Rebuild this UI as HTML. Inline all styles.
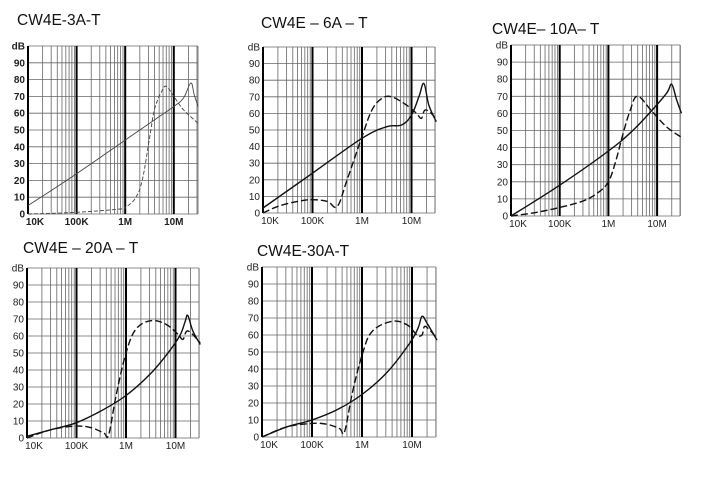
<!DOCTYPE html>
<html><head><meta charset="utf-8"><style>
body{margin:0;background:#fff;width:713px;height:479px;overflow:hidden}
svg{position:absolute;left:0;top:0}
</style></head><body>
<svg id="s" width="713" height="479" xmlns="http://www.w3.org/2000/svg" font-family="Liberation Sans, sans-serif"></svg>
<script>
const s=document.getElementById('s');
let h='';
const charts=[
 {t:'CW4E-3A-T',tx:17,ty:25,x0:28,dw:48.6,x1:198,y0:46,y1:214,thin:true,
  a:[[0,5],[1,24],[2,44],[2.7,58],[3.0,64],[3.2,69],[3.35,78],[3.42,71],[3.5,64]],
  b:[[0,0],[1,1],[1.9,3],[2,4],[2.2,9],[2.35,20],[2.5,45],[2.6,62],[2.75,73],[2.85,76],[3,70],[3.2,62],[3.5,54]]},
 {t:'CW4E – 6A – T',tx:261,ty:28,x0:263,dw:49.5,x1:435,y0:47,y1:213,
  a:[[0,3],[1,24],[2,45],[2.5,52],[2.8,53],[3,59],[3.15,70],[3.25,78],[3.35,65],[3.5,55]],
  b:[[0,0],[0.3,4],[0.7,7],[1,8],[1.3,7],[1.5,4],[1.7,20],[2,46],[2.2,62],[2.4,69],[2.6,70],[2.9,65],[3.1,60],[3.2,57],[3.27,62],[3.4,60],[3.5,56]]},
 {t:'CW4E– 10A– T',tx:492,ty:34,x0:511,dw:48.7,x1:680,y0:45,y1:216,
  a:[[0,0],[1,18],[2,38],[2.5,50],[2.9,62],[3.2,72],[3.3,77],[3.4,68],[3.5,60]],
  b:[[0,0],[0.5,2],[1,5],[1.5,9],[1.8,14],[2,20],[2.15,32],[2.3,48],[2.45,62],[2.6,70],[2.9,61],[3.2,52],[3.5,46]]},
 {t:'CW4E – 20A – T',tx:23,ty:253,x0:27,dw:49.5,x1:199,y0:268,y1:438,
  a:[[0,1],[0.5,5],[1,9],[1.5,16],[2,25],[2.5,38],[2.9,52],[3.1,61],[3.2,69],[3.25,72],[3.35,63],[3.5,55]],
  b:[[0,0],[0.5,5],[1,7],[1.3,6],[1.55,3],[1.65,2],[1.8,25],[2,50],[2.2,64],[2.5,69],[2.8,67],[3.05,61],[3.15,58],[3.25,63],[3.5,56]]},
 {t:'CW4E-30A-T',tx:257,ty:256,x0:262,dw:50,x1:436,y0:267,y1:437,
  a:[[0,0],[0.5,6],[1,10],[1.5,16],[2,25],[2.5,38],[2.95,55],[3.12,64],[3.2,71],[3.3,67],[3.5,57]],
  b:[[0,0],[0.5,6],[1,8],[1.3,7.5],[1.55,5],[1.65,3],[1.8,25],[2,48],[2.2,62],[2.6,68],[2.9,66],[3.1,60],[3.2,60],[3.25,65],[3.35,63],[3.5,58]]}
];
function path(P){
 let d='M'+P[0][0].toFixed(1)+','+P[0][1].toFixed(1);
 for(let i=0;i<P.length-1;i++){
  const p0=P[Math.max(0,i-1)],p1=P[i],p2=P[i+1],p3=P[Math.min(P.length-1,i+2)];
  const t=0.18;
  const c1=[p1[0]+(p2[0]-p0[0])*t,p1[1]+(p2[1]-p0[1])*t];
  const c2=[p2[0]-(p3[0]-p1[0])*t,p2[1]-(p3[1]-p1[1])*t];
  d+=` C${c1[0].toFixed(1)},${c1[1].toFixed(1)} ${c2[0].toFixed(1)},${c2[1].toFixed(1)} ${p2[0].toFixed(1)},${p2[1].toFixed(1)}`;
 }
 return d;
}
for(const c of charts){
 const X=d=>c.x0+d*c.dw, Y=v=>c.y1-(c.y1-c.y0)*v/100;
 h+=`<text x="${c.tx}" y="${c.ty}" font-size="15.5" fill="#111">${c.t}</text>`;
 for(let i=0;i<=10;i++){const y=Y(i*10);
  h+=`<line x1="${c.x0}" x2="${c.x1}" y1="${y}" y2="${y}" stroke="#666" stroke-width="0.8"/>`;
  h+=`<text x="${c.x0-3}" y="${y+3.5}" font-size="10" text-anchor="end" fill="#222" ${c.thin?'font-weight="bold"':''}>${i==10?'dB':i*10}</text>`;}
 for(let d=0;d<4;d++){for(let k=1;k<=9;k++){const p=d+Math.log10(k);const x=X(p);if(x>c.x1+0.5)break;
   h+=`<line x1="${x}" x2="${x}" y1="${c.y0}" y2="${c.y1}" stroke="${k==1?'#000':'#666'}" stroke-width="${k==1?2:0.8}"/>`;}
  h+=`<text x="${X(d)+(d==0?7:0)}" y="${c.y1+11}" font-size="10" text-anchor="middle" fill="#222" ${c.thin?'font-weight="bold"':''}>${['10K','100K','1M','10M'][d]}</text>`;}
 h+=`<line x1="${c.x1}" x2="${c.x1}" y1="${c.y0}" y2="${c.y1}" stroke="#666" stroke-width="0.8"/>`;
 const pts=a=>a.map(p=>[X(p[0]),Y(p[1])]);
 const w=c.thin?0.9:1.4, col=c.thin?'#444':'#111';
 h+=`<path d="${path(pts(c.a))}" fill="none" stroke="${col}" stroke-width="${w}" stroke-linejoin="round"/>`;
 h+=`<path d="${path(pts(c.b))}" fill="none" stroke="${col}" stroke-width="${w}" stroke-dasharray="${c.thin?'4,2':'7,3'}" stroke-linejoin="round"/>`;
}
s.innerHTML=h;
</script>
</body></html>
